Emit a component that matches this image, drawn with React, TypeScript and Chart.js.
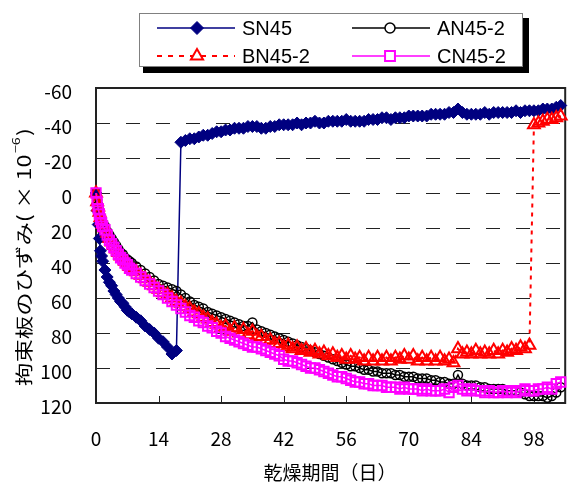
import React, { useEffect, useRef } from "react";
import { Chart, registerables } from "chart.js";

Chart.register(...registerables);

// ---- data ----
const days = [0, 0.25, 0.5, 0.75, 1, 1.25, 1.5, 2, 2.5, 3, 3.5, 4, 4.5, 5, 5.5, 6, 6.5, 7, 7.5, 8,
  9, 10, 11, 12, 13, 14, 15, 16, 17, 18, 19, 20,
  21, 22, 23, 24, 25, 26, 27, 28, 29, 30, 31, 32, 33, 34, 35, 36, 37, 38, 39, 40,
  41, 42, 43, 44, 45, 46, 47, 48, 49, 50, 51, 52, 53, 54, 55, 56, 57, 58, 59, 60,
  61, 62, 63, 64, 65, 66, 67, 68, 69, 70, 71, 72, 73, 74, 75, 76, 77, 78, 79, 80,
  81, 82, 83, 84, 85, 86, 87, 88, 89, 90, 91, 92, 93, 94, 95, 96, 97, 98, 99, 100,
  101, 102, 103, 104];

const sn45 = [0, 10, 18, 26, 33, 36, 39, 44, 48, 51, 53, 56, 58, 60, 62, 63, 65, 67, 68, 69,
  71, 73, 76, 78, 80, 83, 85, 88, 92, 90, -29, -30,
  -31, -31, -32, -33, -33, -34, -35, -35, -36, -36, -37, -37, -37, -38, -38, -38, -37, -37, -38, -38,
  -39, -39, -39, -39, -40, -39, -40, -40, -41, -40, -40, -41, -41, -41, -41, -42, -41, -41, -41, -41,
  -42, -42, -42, -43, -43, -42, -43, -43, -43, -44, -44, -44, -44, -44, -45, -45, -45, -45, -46, -46,
  -48, -46, -45, -45, -45, -45, -46, -45, -46, -46, -46, -46, -46, -47, -46, -47, -47, -47, -47, -48,
  -48, -48, -49, -50];

const an45_2 = [0, 4, 7, 10, 13, 15, 17, 19, 22, 24, 26, 28, 30, 32, 34, 35, 37, 38, 39, 40,
  42, 44, 46, 48, 50, 52, 53, 54, 55, 56, 58, 60,
  62, 64, 65, 66, 68, 69, 70, 71, 72, 73, 74, 75, 76, 76, 74, 78, 79, 80, 81, 82,
  83, 84, 85, 86, 87, 88, 89, 90, 91, 92, 93, 94, 95, 96, 97, 98, 99, 99, 100, 101,
  101, 102, 102, 103, 103, 103, 104, 104, 105, 105, 105, 106, 106, 106, 107, 107, 108, 108, 109, 109,
  104, 109, 110, 110, 110, 111, 111, 112, 112, 112, 112, 113, 113, 113, 114, 115, 116, 116, 116, 116,
  117, 116, 114, 111];

const bn45_2 = [0, 5, 8, 11, 14, 16, 18, 20, 23, 26, 28, 30, 32, 34, 36, 37, 39, 40, 42, 43,
  45, 47, 49, 51, 53, 55, 57, 58, 60, 62, 63, 65,
  66, 68, 69, 71, 72, 74, 75, 77, 76, 79, 77, 80, 78, 81, 79, 82, 82, 84, 84, 86,
  86, 88, 87, 89, 88, 90, 89, 91, 90, 92, 91, 93, 92, 94, 93, 95, 93, 95, 94, 96,
  94, 96, 94, 96, 94, 96, 94, 95, 93, 95, 93, 96, 94, 96, 94, 96, 94, 96, 95, 97,
  89, 92, 91, 92, 90, 92, 91, 92, 90, 92, 90, 91, 89, 90, 88, 89, 87, -39, -40, -41,
  -42, -42, -43, -44];

const cn45_2 = [0, 5, 9, 12, 15, 17, 19, 21, 24, 27, 29, 31, 33, 35, 37, 38, 40, 41, 43, 44,
  46, 48, 50, 52, 54, 56, 58, 60, 62, 64, 66, 68,
  70, 71, 73, 74, 76, 77, 79, 80, 82, 83, 84, 85, 86, 87, 88, 88, 89, 90, 91, 92,
  93, 95, 96, 96, 97, 98, 99, 100, 100, 101, 102, 103, 104, 105, 105, 106, 107, 108, 108, 109,
  109, 110, 110, 110, 111, 111, 111, 112, 111, 112, 112, 112, 113, 112, 113, 113, 113, 112, 114, 111,
  110, 112, 113, 112, 113, 113, 114, 113, 114, 114, 113, 114, 113, 114, 113, 112, 113, 113, 112, 112,
  111, 112, 109, 108];

const seriesNames = ["SN45", "AN45-2", "BN45-2", "CN45-2"];
const xTitle = "乾燥期間（日）";
const yTitleMain = "拘束板のひずみ( × 10";
const yTitleSup = "−6";
const yTitleEnd = ")";
const xMin = 0, xMax = 105, xStep = 14;
const yMin = -60, yMax = 120, yStep = 20;

// ---- styles ----
const FONT_JP = '"Noto Sans CJK JP", "Noto Sans", sans-serif';
const FONT_LEG = '"Liberation Sans", Arial, sans-serif';

type Style = { color: string; marker: string; r: number; fill: boolean; lw: number; dash: number[]; mlw: number };
const styles: Style[] = [
  { color: "#000080", marker: "rectRot", r: 6, fill: true, lw: 1.5, dash: [], mlw: 1 },
  { color: "#000000", marker: "circle", r: 4.5, fill: false, lw: 1.5, dash: [], mlw: 1.5 },
  { color: "#FF0000", marker: "triangle", r: 6.8, fill: false, lw: 2, dash: [4, 5], mlw: 2 },
  { color: "#FF00FF", marker: "rect", r: 6.6, fill: false, lw: 1.5, dash: [], mlw: 2 },
];
const seriesValues = [sn45, an45_2, bn45_2, cn45_2];

function drawMarker(ctx: CanvasRenderingContext2D, s: Style, x: number, y: number, r: number) {
  ctx.save();
  ctx.setLineDash([]);
  ctx.beginPath();
  if (s.marker === "rectRot") {
    ctx.moveTo(x, y - r); ctx.lineTo(x + r, y); ctx.lineTo(x, y + r); ctx.lineTo(x - r, y); ctx.closePath();
  } else if (s.marker === "circle") {
    ctx.arc(x, y, r, 0, Math.PI * 2);
  } else if (s.marker === "triangle") {
    const w = r * Math.sin(Math.PI / 3);
    ctx.moveTo(x, y - r); ctx.lineTo(x + w, y + r / 2); ctx.lineTo(x - w, y + r / 2); ctx.closePath();
  } else {
    const h = r * Math.SQRT1_2;
    ctx.rect(x - h, y - h, 2 * h, 2 * h);
  }
  ctx.fillStyle = s.fill ? s.color : "#fff";
  ctx.fill();
  ctx.lineWidth = s.mlw;
  ctx.strokeStyle = s.color;
  ctx.stroke();
  ctx.restore();
}

const decorPlugin = {
  id: "decor",
  beforeDatasetsDraw(chart: any) {
    const { ctx, chartArea: a, scales } = chart;
    const xs = scales.x;
    ctx.save();
    ctx.strokeStyle = "#222";
    ctx.lineWidth = 1;
    xs.ticks.forEach((t: any) => {
      const px = Math.round(xs.getPixelForValue(t.value)) + 0.5;
      ctx.beginPath();
      ctx.moveTo(px, a.bottom);
      ctx.lineTo(px, a.bottom - 7);
      ctx.stroke();
    });
    ctx.lineWidth = 2;
    ctx.strokeStyle = "#222";
    ctx.strokeRect(a.left, a.top, a.right - a.left, a.bottom - a.top);
    ctx.restore();
  },
  afterDraw(chart: any) {
    const { ctx } = chart;
    ctx.save();
    // legend box with shadow
    ctx.fillStyle = "#000";
    ctx.fillRect(143, 18, 386, 55);
    ctx.fillStyle = "#fff";
    ctx.fillRect(139, 13, 384, 54);
    ctx.strokeStyle = "#808080";
    ctx.lineWidth = 1;
    ctx.strokeRect(139.5, 13.5, 383, 53);
    const pos = [
      { x0: 157, x1: 235, mx: 197, tx: 242, y: 28 },
      { x0: 352, x1: 430, mx: 390, tx: 437, y: 28 },
      { x0: 157, x1: 235, mx: 197, tx: 242, y: 56 },
      { x0: 352, x1: 430, mx: 390, tx: 437, y: 56 },
    ];
    pos.forEach((p, i) => {
      const s = styles[i];
      ctx.save();
      ctx.strokeStyle = s.color;
      ctx.lineWidth = s.lw;
      ctx.setLineDash(s.dash.length ? [5, 6] : []);
      ctx.beginPath();
      ctx.moveTo(p.x0, p.y);
      ctx.lineTo(p.x1, p.y);
      ctx.stroke();
      ctx.restore();
      drawMarker(ctx, s, p.mx, p.y, s.marker === "circle" ? 5 : s.marker === "rect" ? 7 : s.marker === "triangle" ? 7 : 6.5);
      ctx.fillStyle = "#000";
      ctx.font = "20px " + FONT_LEG;
      ctx.textAlign = "left";
      ctx.textBaseline = "middle";
      ctx.fillText(seriesNames[i], p.tx, p.y + 1);
    });
    // x title
    ctx.fillStyle = "#000";
    ctx.font = "19px " + FONT_JP;
    ctx.textAlign = "center";
    ctx.textBaseline = "middle";
    ctx.fillText(xTitle, 330, 473);
    // y title (rotated, stretched along text)
    ctx.save();
    ctx.translate(24, 257);
    ctx.rotate(-Math.PI / 2);
    ctx.scale(1.3, 1);
    ctx.textAlign = "left";
    ctx.textBaseline = "middle";
    ctx.font = "18px " + FONT_JP;
    const w1 = ctx.measureText(yTitleMain).width;
    const w3 = ctx.measureText(yTitleEnd).width;
    ctx.font = "11px " + FONT_JP;
    const w2 = ctx.measureText(yTitleSup).width;
    const total = w1 + w2 + w3 + 2;
    let x = -total / 2;
    ctx.font = "18px " + FONT_JP;
    ctx.fillText(yTitleMain, x, 0);
    x += w1 + 1;
    ctx.font = "11px " + FONT_JP;
    ctx.fillText(yTitleSup, x, -8);
    x += w2 + 1;
    ctx.font = "18px " + FONT_JP;
    ctx.fillText(yTitleEnd, x, 0);
    ctx.restore();
    ctx.restore();
  },
};

export default function App() {
  const ref = useRef<HTMLCanvasElement>(null);
  useEffect(() => {
    if (!ref.current) return;
    const datasets = seriesValues.map((vals, i) => {
      const s = styles[i];
      return {
        label: seriesNames[i],
        data: vals.map((v, j) => ({ x: days[j], y: v })),
        borderColor: s.color,
        backgroundColor: s.fill ? s.color : "rgba(0,0,0,0)",
        borderWidth: s.lw,
        borderDash: s.dash,
        pointStyle: s.marker,
        pointRadius: s.r,
        pointBorderWidth: s.mlw,
        pointBackgroundColor: s.fill ? s.color : "rgba(0,0,0,0)",
        pointBorderColor: s.color,
        tension: 0,
        fill: false,
        clip: false,
        order: 3 - i,
      };
    });
    const chart = new Chart(ref.current, {
      type: "line",
      data: { datasets },
      plugins: [decorPlugin],
      options: {
        animation: false,
        responsive: false,
        devicePixelRatio: 1,
        layout: { padding: { top: 88, right: 2, left: 0, bottom: 0 } },
        plugins: { legend: { display: false }, tooltip: { enabled: false } },
        font: { family: FONT_JP, size: 19 },
        scales: {
          x: {
            type: "linear",
            min: xMin,
            max: xMax,
            afterFit: (s: any) => { s.height = 81; },
            ticks: { stepSize: xStep, includeBounds: false, padding: 24, color: "#000", font: { family: FONT_JP, size: 19 }, maxRotation: 0 },
            grid: { display: false, drawTicks: false },
            border: { display: false },
          },
          y: {
            type: "linear",
            reverse: true,
            min: yMin,
            max: yMax,
            afterFit: (s: any) => { s.width = 96; },
            ticks: { stepSize: yStep, padding: 24, labelOffset: 4, color: "#000", font: { family: FONT_JP, size: 19 } },
            grid: { display: true, color: "#222", lineWidth: 1, drawTicks: false },
            border: { display: false, dash: [14, 16], dashOffset: 0 },
          },
        },
      } as any,
    });
    return () => chart.destroy();
  }, []);
  return (
    <div style={{ position: "fixed", left: 0, top: 0, width: 574, height: 484, background: "#fff" }}>
      <canvas ref={ref} width={574} height={484} style={{ display: "block", width: 574, height: 484 }} />
    </div>
  );
}
